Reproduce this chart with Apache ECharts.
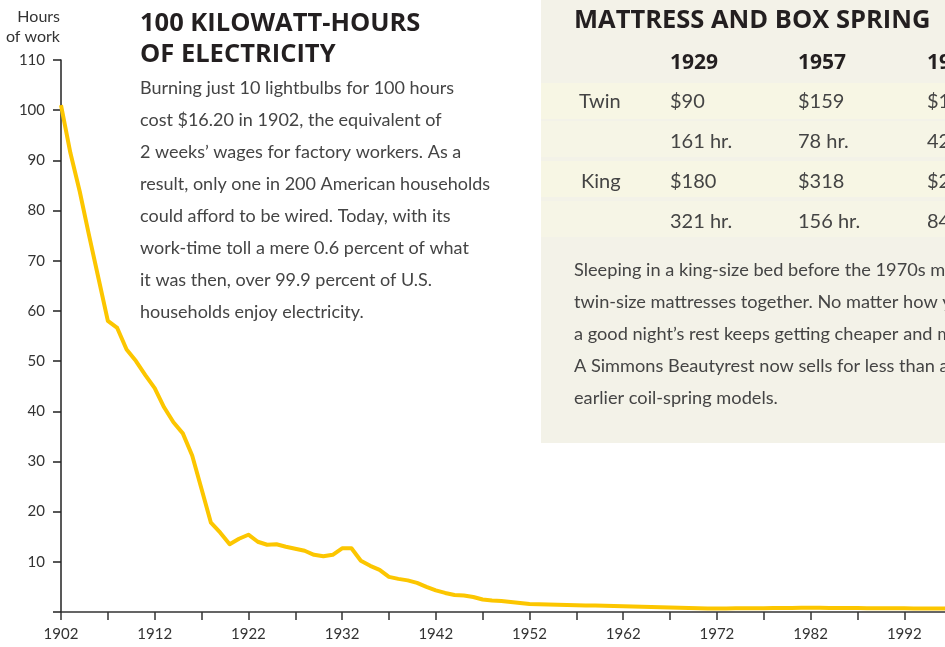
<!DOCTYPE html>
<html>
<head>
<meta charset="utf-8">
<title>100 kilowatt-hours of electricity</title>
<script src="https://cdn.jsdelivr.net/npm/echarts@6/dist/echarts.min.js"></script>
<style>
  html, body { margin: 0; padding: 0; background: #fff; }
  #main { width: 945px; height: 647px; }
</style>
</head>
<body>
<div id="main"></div>
<script>
// hours of work needed to buy 100 kWh
var years = [];
for (var y = 1902; y <= 1999; y++) years.push(y);
var hours = [
  101, 91.5, 83.8, 75, 66.5, 58, 56.6, 52.3, 50, 47.2,
  44.6, 40.8, 37.8, 35.6, 31.2, 24.5, 17.8, 15.8, 13.5, 14.6,
  15.4, 14, 13.4, 13.5, 13, 12.6, 12.2, 11.4, 11.1, 11.4,
  12.7, 12.7, 10.2, 9.2, 8.4, 7, 6.6, 6.3, 5.8, 5,
  4.3, 3.8, 3.4, 3.3, 3, 2.5, 2.3, 2.2, 2, 1.8,
  1.6, 1.55, 1.5, 1.45, 1.4, 1.35, 1.3, 1.28, 1.25, 1.2,
  1.15, 1.1, 1.05, 1, 0.95, 0.9, 0.85, 0.8, 0.75, 0.72,
  0.7, 0.72, 0.75, 0.76, 0.77, 0.77, 0.78, 0.8, 0.82, 0.84,
  0.85, 0.84, 0.82, 0.8, 0.79, 0.78, 0.77, 0.76, 0.75, 0.74,
  0.73, 0.72, 0.71, 0.7, 0.7, 0.69, 0.68, 0.68
];

var bodyText = [
  'Burning just 10 lightbulbs for 100 hours',
  'cost $16.20 in 1902, the equivalent of',
  '2 weeks\u2019 wages for factory workers. As a',
  'result, only one in 200 American households',
  'could afford to be wired. Today, with its',
  'work-time toll a mere 0.6 percent of what',
  'it was then, over 99.9 percent of U.S.',
  'households enjoy electricity.'
];

// mattress table
var tableYears = ['1929', '1957', '1997'];
var tableRows = [
  ['Twin', '$90', '$159', '$199'],
  ['', '161 hr.', '78 hr.', '42 hr.'],
  ['King', '$180', '$318', '$299'],
  ['', '321 hr.', '156 hr.', '84 hr.']
];
var mattressText = [
  'Sleeping in a king-size bed before the 1970s meant pushing two',
  'twin-size mattresses together. No matter how you measure it,',
  'a good night\u2019s rest keeps getting cheaper and more comfortable.',
  'A Simmons Beautyrest now sells for less than a fraction of',
  'earlier coil-spring models.'
];

var FONT = 'Lato, "Open Sans", sans-serif';
var HEAD = '"Open Sans", Lato, sans-serif';
var chart = echarts.init(document.getElementById('main'));

var graphics = [];
// right panel background
graphics.push({ type: 'rect', left: 541, top: 0, z: -10,
  shape: { width: 420, height: 443 }, style: { fill: '#f3f2e8' } });
var bandTop = [83, 121, 161, 201];
bandTop.forEach(function (t, i) {
  graphics.push({ type: 'rect', left: 541, top: t, z: -9,
    shape: { width: 420, height: 36 }, style: { fill: i % 2 ? '#f6f5e6' : '#f7f6e4' } });
});

// axis name, right aligned to the axis
graphics.push({ type: 'text', x: 60, y: 7,
  style: { text: 'Hours\nof work', font: '16px ' + FONT, fill: '#333', align: 'right', lineHeight: 20 } });

// left title + text
graphics.push({ type: 'text', left: 140, top: 8,
  style: { text: '100 KILOWATT-HOURS\nOF ELECTRICITY', font: 'bold 25.5px ' + HEAD, fill: '#231f20', lineHeight: 31 } });
bodyText.forEach(function (line, i) {
  graphics.push({ type: 'text', left: 140, top: 79 + i * 32,
    style: { text: line, font: '18px ' + FONT, fill: '#444' } });
});

// mattress panel
graphics.push({ type: 'text', left: 574, top: 8,
  style: { text: 'MATTRESS AND BOX SPRING', font: 'bold 25.5px ' + HEAD, fill: '#231f20' } });
var colX = [670, 798, 927];
tableYears.forEach(function (yr, i) {
  graphics.push({ type: 'text', left: colX[i], top: 53,
    style: { text: yr, font: 'bold 21px ' + HEAD, fill: '#231f20' } });
});
tableRows.forEach(function (row, r) {
  var ty = 92 + r * 40;
  if (row[0]) {
    graphics.push({ type: 'text', left: r === 0 ? 579 : 581, top: ty,
      style: { text: row[0], font: '20px ' + FONT, fill: '#444' } });
  }
  for (var c = 1; c < row.length; c++) {
    graphics.push({ type: 'text', left: colX[c - 1], top: ty,
      style: { text: row[c], font: '20px ' + FONT, fill: '#444' } });
  }
});
mattressText.forEach(function (line, i) {
  graphics.push({ type: 'text', left: 574, top: 261 + i * 32,
    style: { text: line, font: '18.2px ' + FONT, fill: '#444' } });
});

var option = {
  animation: false,
  backgroundColor: '#fff',
  textStyle: { fontFamily: FONT },
  grid: { left: 61, top: 60, width: 937, height: 552, outerBoundsMode: 'none', containLabel: false },
  xAxis: {
    type: 'value',
    min: 1902,
    max: 2002,
    interval: 5,
    splitLine: { show: false },
    axisLine: { lineStyle: { color: '#333', width: 1.5 } },
    axisTick: { length: 8, lineStyle: { color: '#333', width: 1.5 } },
    axisLabel: {
      margin: 15, fontSize: 15, color: '#333', fontFamily: FONT,
      formatter: function (v) { return (v - 1902) % 10 === 0 ? String(v) : ''; }
    }
  },
  yAxis: {
    type: 'value',
    min: 0,
    max: 110,
    interval: 10,
    splitLine: { show: false },
    axisLine: { show: true, lineStyle: { color: '#222', width: 1.5 } },
    axisTick: { show: true, length: 8, lineStyle: { color: '#222', width: 1.5 } },
    axisLabel: {
      margin: 16, fontSize: 15, color: '#333', fontFamily: FONT,
      formatter: function (v) { return v === 0 ? '' : String(v); }
    }
  },
  series: [{
    type: 'line',
    data: years.map(function (yr, i) { return [yr, hours[i]]; }),
    showSymbol: false,
    lineStyle: { color: '#fcc600', width: 4, join: 'round' },
    z: 5
  }],
  graphic: graphics
};
chart.setOption(option);
</script>
</body>
</html>
